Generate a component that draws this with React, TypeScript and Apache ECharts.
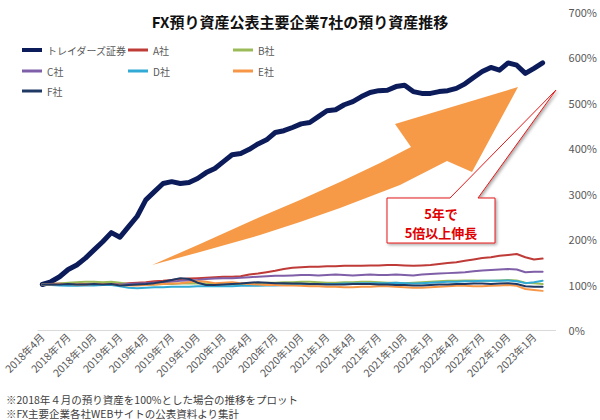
import React, { useEffect, useRef } from 'react';
import * as echarts from 'echarts';

// 月次カテゴリ（2018年4月〜2023年3月）
const months = [
  '2018年4月', '2018年5月', '2018年6月', '2018年7月', '2018年8月', '2018年9月',
  '2018年10月', '2018年11月', '2018年12月', '2019年1月', '2019年2月', '2019年3月',
  '2019年4月', '2019年5月', '2019年6月', '2019年7月', '2019年8月', '2019年9月',
  '2019年10月', '2019年11月', '2019年12月', '2020年1月', '2020年2月', '2020年3月',
  '2020年4月', '2020年5月', '2020年6月', '2020年7月', '2020年8月', '2020年9月',
  '2020年10月', '2020年11月', '2020年12月', '2021年1月', '2021年2月', '2021年3月',
  '2021年4月', '2021年5月', '2021年6月', '2021年7月', '2021年8月', '2021年9月',
  '2021年10月', '2021年11月', '2021年12月', '2022年1月', '2022年2月', '2022年3月',
  '2022年4月', '2022年5月', '2022年6月', '2022年7月', '2022年8月', '2022年9月',
  '2022年10月', '2022年11月', '2022年12月', '2023年1月', '2023年2月', '2023年3月'
];

const names = ['トレイダーズ証券', 'A社', 'B社', 'C社', 'D社', 'E社', 'F社'];
const colors = ['#0c1c5a', '#be3b38', '#9bbb59', '#7f5fa8', '#31aad6', '#f79646', '#1f3864'];

// 2018年4月 = 100%
const traders = [
  100, 106, 117, 133, 143, 158, 176, 194, 214, 204,
  227, 250, 286, 304, 322, 326, 322, 324, 333, 346,
  355, 370, 385, 388, 397, 409, 418, 434, 438, 445,
  453, 456, 469, 482, 484, 495, 502, 513, 522, 526,
  527, 535, 538, 524, 520, 520, 524, 526, 531, 541,
  555, 568, 577, 571, 587, 582, 564, 575, 587
];
const companyA = [
  100, 101, 102, 101, 100, 101, 102, 102, 103, 101,
  103, 104, 105, 107, 108, 110, 112, 113, 114, 115,
  116, 117, 117, 118, 122, 124, 127, 130, 134, 137,
  138, 139, 139, 140, 140, 141, 141, 141, 142, 142,
  143, 143, 142, 141, 142, 143, 145, 147, 149, 152,
  155, 158, 160, 163, 165, 167, 160, 155, 157
];
const companyB = [
  100, 101, 102, 104, 105, 106, 106, 105, 106, 104,
  101, 100, 99, 100, 101, 101, 102, 102, 103, 102,
  101, 100, 100, 101, 102, 103, 104, 104, 105, 105,
  106, 106, 105, 104, 104, 105, 105, 106, 106, 105,
  104, 104, 103, 104, 105, 106, 107, 108, 108, 109,
  109, 108, 108, 109, 110, 109, 104, 103, 101
];
const companyC = [
  100, 101, 101, 100, 99, 100, 101, 100, 101, 100,
  101, 102, 103, 104, 105, 106, 108, 109, 110, 112,
  113, 114, 114, 115, 116, 117, 118, 119, 119, 120,
  121, 121, 120, 121, 122, 121, 120, 121, 122, 121,
  121, 122, 121, 120, 122, 123, 124, 125, 126, 127,
  129, 131, 132, 133, 134, 133, 127, 128, 128
];
const companyD = [
  100, 99, 98, 97, 97, 98, 98, 99, 99, 96,
  93, 92, 93, 94, 94, 95, 95, 95, 96, 96,
  96, 96, 96, 97, 97, 97, 98, 98, 99, 99,
  100, 100, 100, 101, 101, 102, 102, 103, 103, 103,
  103, 104, 103, 102, 103, 104, 105, 106, 106, 107,
  107, 108, 108, 108, 109, 107, 103, 105, 108
];
const companyE = [
  100, 100, 101, 101, 100, 100, 101, 101, 101, 99,
  98, 98, 99, 100, 101, 102, 103, 105, 107, 106,
  103, 104, 105, 103, 101, 100, 99, 99, 98, 98,
  97, 96, 96, 95, 95, 94, 94, 95, 95, 96,
  96, 95, 94, 93, 93, 94, 95, 96, 97, 97,
  96, 96, 97, 98, 99, 97, 90, 88, 86
];
const companyF = [
  100, 100, 100, 101, 100, 100, 101, 100, 101, 98,
  99, 100, 101, 103, 106, 110, 114, 112, 104, 99,
  99, 100, 101, 102, 104, 105, 104, 103, 103, 102,
  102, 101, 101, 100, 100, 100, 101, 101, 101, 100,
  100, 99, 99, 98, 98, 99, 100, 100, 101, 101,
  102, 102, 101, 102, 103, 101, 96, 95, 95
];
const seriesData = [traders, companyA, companyB, companyC, companyD, companyE, companyF];

const notes = [
  '※2018年４月の預り資産を100%とした場合の推移をプロット',
  '※FX主要企業各社WEBサイトの公表資料より集計'
];
const calloutLines = ['5年で', '5倍以上伸長'];

const FONT = '"Noto Sans CJK JP", "Noto Sans", sans-serif';

const App: React.FC = () => {
  const chartRef = useRef<HTMLDivElement>(null);

  useEffect(() => {
    document.body.style.margin = '0';
    if (!chartRef.current) return;
    const chart = echarts.init(chartRef.current, undefined, { renderer: 'svg' });

    // 凡例は3列レイアウト
    const legendPos = [
      [22, 45], [128, 45], [233, 45],
      [22, 66], [128, 66], [233, 66],
      [22, 86]
    ];
    const legends = names.map((name, i) => ({
      data: [name],
      left: legendPos[i][0],
      top: legendPos[i][1],
      padding: 0,
      icon: 'rect',
      itemWidth: 20,
      itemHeight: i === 0 ? 4 : 3,
      textStyle: { fontSize: 10, color: '#595959', fontFamily: FONT }
    }));

    const series: echarts.SeriesOption[] = names.map((name, i) => ({
      type: 'line',
      name,
      data: seriesData[i],
      symbol: 'none',
      color: colors[i],
      lineStyle: {
        width: i === 0 ? 5 : 2,
        color: colors[i],
        cap: 'round',
        join: 'round'
      }
    }));

    const arrowPoints = [
      [152, 265],
      [200, 244], [260, 217], [300, 200], [340, 182], [380, 163], [411, 147],
      [395, 124], [518, 87], [472, 172], [447, 161],
      [400, 185], [340, 208], [300, 222], [260, 235], [200, 252]
    ];

    const calloutPoints = [
      [387, 198], [450, 198], [556, 90], [478, 198], [495, 198], [495, 243], [387, 243]
    ];

    const option: echarts.EChartsOption = {
      animation: false,
      backgroundColor: '#fff',
      textStyle: { fontFamily: FONT },
      title: {
        text: 'FX預り資産公表主要企業7社の預り資産推移',
        left: 'center',
        top: 14,
        padding: 0,
        textStyle: { fontSize: 15, fontWeight: 'bold', color: '#111', fontFamily: FONT }
      },
      legend: legends,
      grid: { left: 38, right: 38, top: 11.5, bottom: 90 },
      xAxis: {
        type: 'category',
        data: months,
        boundaryGap: true,
        axisLine: { lineStyle: { color: '#d9d9d9' } },
        axisTick: { interval: 2, length: 4, lineStyle: { color: '#d9d9d9' } },
        axisLabel: {
          interval: 2,
          rotate: 45,
          margin: 5,
          fontSize: 10.5,
          color: '#595959',
          fontFamily: FONT
        }
      },
      yAxis: {
        type: 'value',
        position: 'right',
        min: 0,
        max: 700,
        interval: 100,
        splitLine: { show: false },
        axisLine: { show: false },
        axisTick: { show: false },
        axisLabel: {
          formatter: '{value}%',
          margin: 13,
          fontSize: 11,
          color: '#595959',
          fontFamily: FONT
        }
      },
      series,
      graphic: [
        {
          type: 'polygon',
          z: 10,
          shape: { points: arrowPoints },
          style: { fill: '#f69a48' }
        },
        {
          type: 'polygon',
          z: 11,
          shape: { points: calloutPoints },
          style: {
            fill: '#fff',
            stroke: '#e31b1b',
            lineWidth: 1,
            shadowBlur: 3,
            shadowOffsetX: 1.5,
            shadowOffsetY: 1.5,
            shadowColor: 'rgba(0,0,0,0.35)'
          }
        },
        ...calloutLines.map((t, i) => ({
          type: 'text' as const,
          z: 12,
          x: 441,
          y: 213 + i * 19,
          style: {
            text: t,
            fill: '#e00000',
            font: `bold 13px ${FONT}`,
            textAlign: 'center' as const,
            textVerticalAlign: 'middle' as const
          }
        })),
        ...notes.map((t, i) => ({
          type: 'text' as const,
          x: 6,
          y: 399 + i * 14,
          style: {
            text: t,
            fill: '#404040',
            font: `10.5px ${FONT}`,
            textAlign: 'left' as const,
            textVerticalAlign: 'middle' as const
          }
        }))
      ]
    };

    chart.setOption(option);

    return () => {
      chart.dispose();
    };
  }, []);

  return <div ref={chartRef} style={{ width: '600px', height: '420px' }} />;
};

export default App;
